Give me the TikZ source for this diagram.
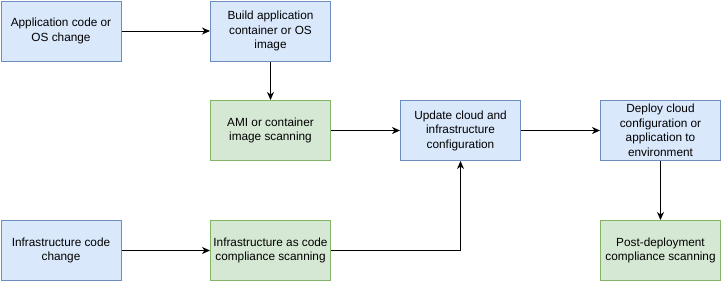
\documentclass[tikz,border=0pt]{standalone}
\usepackage{fontspec}
\setmainfont{Liberation Sans}
\usetikzlibrary{arrows.meta}
\definecolor{bluefill}{HTML}{DAE8FC}
\definecolor{bluedraw}{HTML}{6C8EBF}
\definecolor{greenfill}{HTML}{D5E8D4}
\definecolor{greendraw}{HTML}{82B366}
\tikzset{
  box/.style={rectangle, minimum width=120pt, minimum height=60pt, inner sep=0pt,
    align=center, line width=1pt, font=\fontsize{11.8}{14.5}\selectfont, anchor=north west},
  bluebox/.style={box, fill=bluefill, draw=bluedraw},
  greenbox/.style={box, fill=greenfill, draw=greendraw},
  flow/.style={line width=1pt, -{Stealth[length=8pt, width=7pt, inset=2.5pt]}}
}
\begin{document}
\begin{tikzpicture}[x=1pt, y=-1pt]
\useasboundingbox (0,0) rectangle (721,281);
\node[bluebox]  (app)    at (0.5,0.5)   {Application code or\\OS change};
\node[bluebox]  (build)  at (210,0.5)   {Build application\\container or OS\\image};
\node[greenbox] (ami)    at (210,100)   {AMI or container\\image scanning};
\node[bluebox]  (update) at (400,100)   {Update cloud and\\infrastructure\\configuration};
\node[bluebox]  (deploy) at (600,100)   {Deploy cloud\\configuration or\\application to\\environment};
\node[bluebox]  (infra)  at (0.5,220)   {Infrastructure code\\change};
\node[greenbox] (iac)    at (210,220)   {Infrastructure as code\\compliance scanning};
\node[greenbox] (post)   at (600,220)   {Post-deployment\\compliance scanning};

\draw[flow] (app) -- (build);
\draw[flow] (build) -- (ami);
\draw[flow] (ami) -- (update);
\draw[flow] (update) -- (deploy);
\draw[flow] (deploy) -- (post);
\draw[flow] (infra) -- (iac);
\draw[flow] (iac.east) -| (update.south);
\end{tikzpicture}
\end{document}
